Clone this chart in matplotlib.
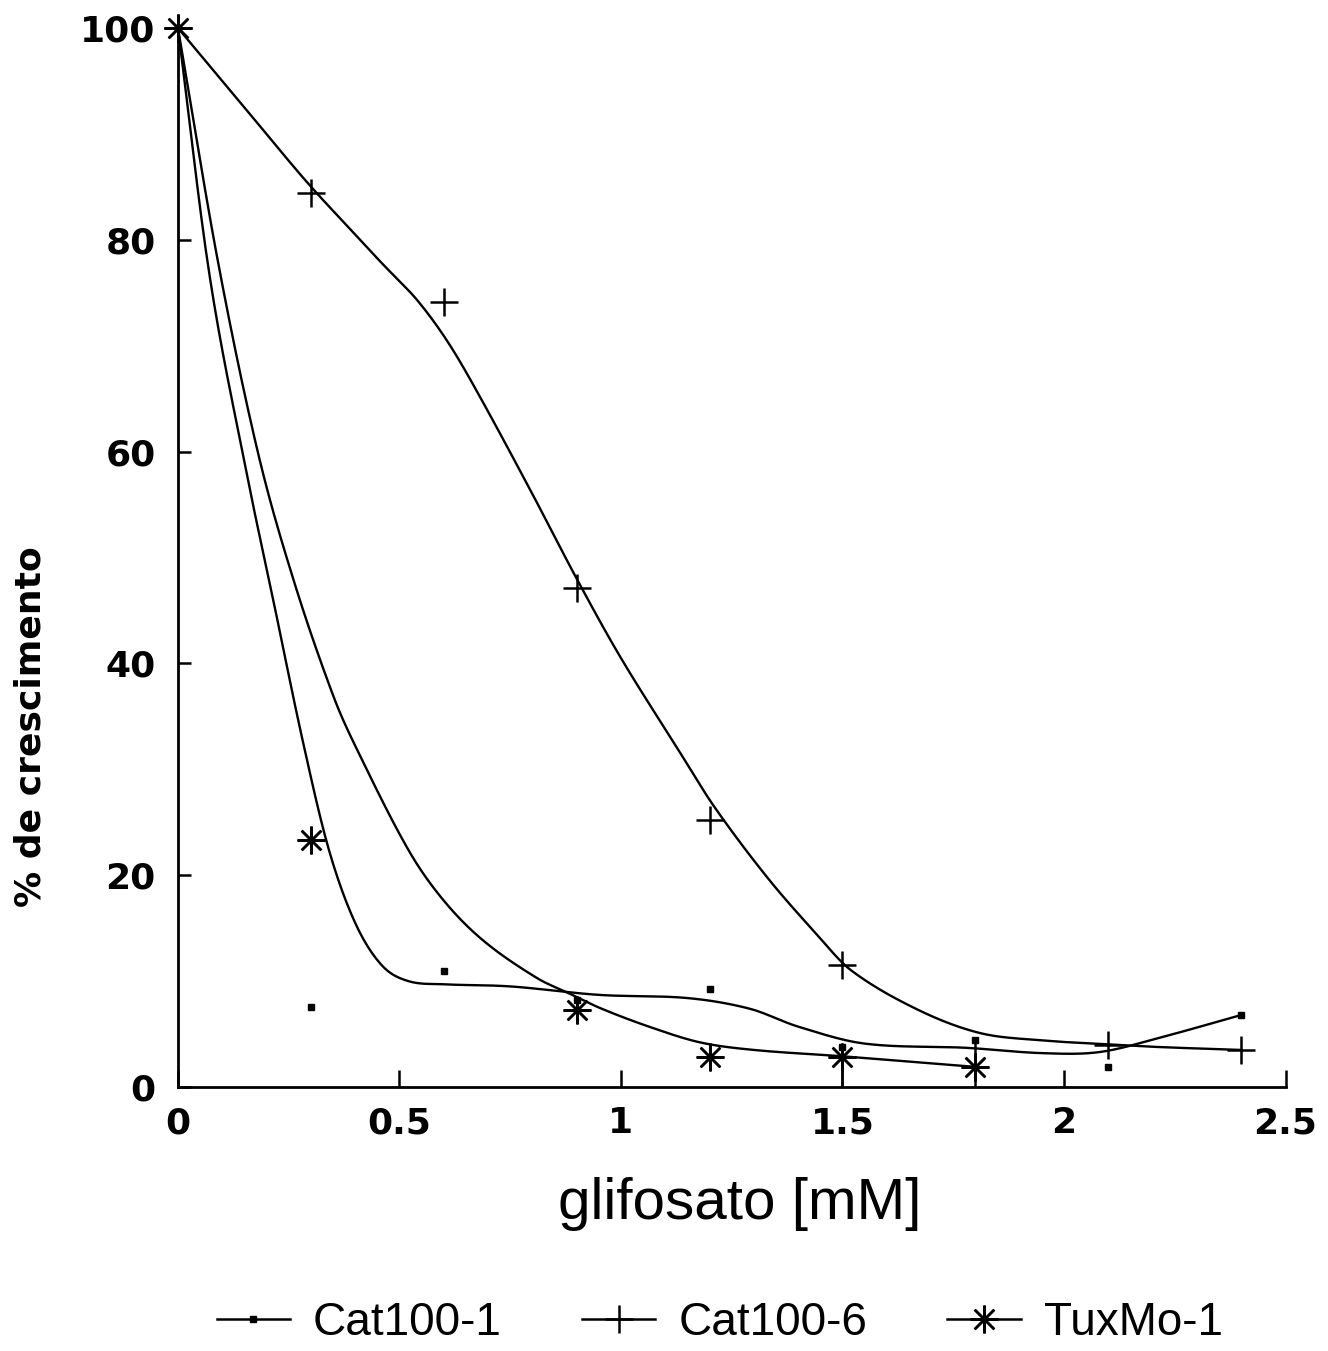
import numpy as np
import matplotlib
matplotlib.use("Agg")
import matplotlib.pyplot as plt
from matplotlib.lines import Line2D
from matplotlib.font_manager import FontProperties

plt.rcParams['font.family'] = ['Liberation Sans', 'DejaVu Sans']

# measured points
conc = [0, 0.3, 0.6, 0.9, 1.2, 1.5, 1.8, 2.1, 2.4]
cat1 = [100, 7.6, 11.0, 8.2, 9.3, 3.8, 4.4, 1.9, 6.8]
cat6_x = [0, 0.3, 0.6, 0.9, 1.2, 1.5, 2.1, 2.4]
cat6 = [100, 84.4, 74.1, 47.1, 25.2, 11.5, 4.0, 3.5]
tux_x = [0, 0.3, 0.9, 1.2, 1.5, 1.8]
tux = [100, 23.3, 7.3, 2.8, 2.8, 1.9]

# hand-drawn fitted curves
cat1_fit_x = [0, 0.07, 0.15, 0.22, 0.28, 0.34, 0.40, 0.46, 0.52, 0.6, 0.75, 0.95,
              1.15, 1.29, 1.40, 1.55, 1.78, 1.95, 2.08, 2.22, 2.4]
cat1_fit = [100, 77, 59, 45, 33, 22.5, 15.5, 11.5, 10, 9.7, 9.5, 8.7,
            8.4, 7.4, 5.7, 4.1, 3.7, 3.2, 3.3, 4.7, 6.8]
cat6_fit_x = [0, 0.15, 0.29, 0.4, 0.46, 0.54, 0.61, 0.68, 0.8, 0.9, 1.0, 1.13, 1.21,
              1.33, 1.44, 1.52, 1.67, 1.81, 1.95, 2.07, 2.2, 2.4]
cat6_fit = [100, 92.5, 85.5, 80.5, 77.8, 74.3, 70.3, 65.3, 56, 48, 40.5, 31.8, 26.5,
            19.8, 14.5, 11, 7.3, 5.1, 4.4, 4.1, 3.8, 3.5]
tux_fit_x = [0, 0.09, 0.18, 0.26, 0.35, 0.405, 0.52, 0.6, 0.69, 0.81, 0.88, 0.956,
             1.07, 1.18, 1.3, 1.5, 1.65, 1.8]
tux_fit = [100, 78, 60, 48, 37, 31.8, 22.4, 17.6, 13.8, 10.3, 8.9, 7.4,
           5.6, 4.2, 3.5, 2.9, 2.4, 1.9]

labels = ["Cat100-1", "Cat100-6", "TuxMo-1"]
stem_idx = [5, 6]


def smooth(x, y, n=500):
    # cubic hermite with central-difference slopes
    x = np.asarray(x, float)
    y = np.asarray(y, float)
    h = np.diff(x)
    m = np.empty_like(y)
    m[1:-1] = (y[2:] - y[:-2]) / (x[2:] - x[:-2])
    m[0] = (y[1] - y[0]) / h[0]
    m[-1] = (y[-1] - y[-2]) / h[-1]
    xs = np.linspace(x[0], x[-1], n)
    i = np.clip(np.searchsorted(x, xs) - 1, 0, len(x) - 2)
    t = (xs - x[i]) / h[i]
    h00 = 2 * t**3 - 3 * t**2 + 1
    h10 = t**3 - 2 * t**2 + t
    h01 = -2 * t**3 + 3 * t**2
    h11 = t**3 - t**2
    ys = h00 * y[i] + h10 * h[i] * m[i] + h01 * y[i + 1] + h11 * h[i] * m[i + 1]
    return xs, ys


fig = plt.figure(figsize=(13.28, 13.51), dpi=100)
ax = fig.add_axes([0.134, 0.1954, 0.834, 0.7839])

lw = 1.7
for fx, fy in [(cat1_fit_x, cat1_fit), (cat6_fit_x, cat6_fit), (tux_fit_x, tux_fit)]:
    xs, ys = smooth(fx, fy)
    ax.plot(xs, ys, color='black', lw=lw, clip_on=False)

star = (8, 2, 0)
ax.plot(conc, cat1, ls='none', marker='s', ms=5, color='black', clip_on=False)
ax.plot(cat6_x, cat6, ls='none', marker='+', ms=20, mew=1.8, color='black', clip_on=False)
ax.plot(tux_x, tux, ls='none', marker=star, ms=20, mew=1.8, color='black', clip_on=False)
ax.vlines([conc[k] for k in stem_idx], 0, [cat1[k] for k in stem_idx], color='black', lw=1.8)

ax.set_xlim(0, 2.5)
ax.set_ylim(0, 100)
ax.set_xticks([0, 0.5, 1, 1.5, 2, 2.5])
ax.set_xticklabels(['0', '0.5', '1', '1.5', '2', '2.5'])
ax.set_yticks([0, 20, 40, 60, 80, 100])
ax.spines['top'].set_visible(False)
ax.spines['right'].set_visible(False)
for s in ['left', 'bottom']:
    ax.spines[s].set_linewidth(2)
ax.tick_params(axis='x', direction='in', length=12, width=1.8, pad=14)
ax.tick_params(axis='y', direction='in', length=9, width=1.8, pad=16)
bold = FontProperties(family='DejaVu Sans', weight='bold', size=26)
for lab in ax.get_xticklabels() + ax.get_yticklabels():
    lab.set_fontproperties(bold)

ax.set_xlabel('glifosato [mM]', fontsize=42, labelpad=20)
ax.xaxis.set_label_coords(0.507, -0.085)
ax.set_ylabel('% de crescimento', fontproperties=FontProperties(family='DejaVu Sans', weight='bold', size=26))
ax.yaxis.set_label_coords(-0.118, 0.34)

handles = [
    Line2D([], [], color='black', lw=1.8, marker='s', ms=4),
    Line2D([], [], color='black', lw=1.8, marker='+', ms=20, mew=1.8),
    Line2D([], [], color='black', lw=1.8, marker=star, ms=20, mew=1.8),
]
fig.legend(handles, labels, loc='center', bbox_to_anchor=(0.542, 0.021), ncol=3,
           frameon=False, handlelength=1.6, handletextpad=0.5, columnspacing=1.75,
           prop=FontProperties(family='Liberation Sans', size=33))

fig.savefig('out.png', dpi=100)
